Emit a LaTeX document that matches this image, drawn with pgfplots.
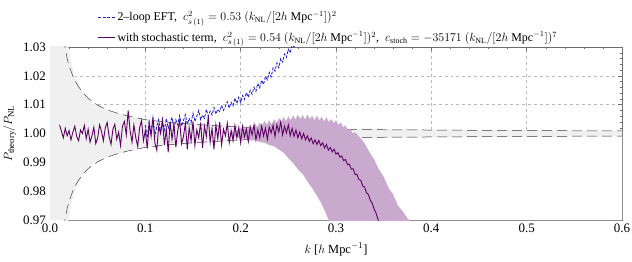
\documentclass[border=0pt]{standalone}
\usepackage{pgfplots}
\pgfplotsset{compat=1.18}
\usepackage{fontspec}
\setmainfont{Liberation Serif}
\usetikzlibrary{calc}
\definecolor{eftblue}{RGB}{25,25,200}
\definecolor{stpurple}{RGB}{95,0,100}
\definecolor{bandpurple}{RGB}{201,170,206}
\definecolor{envgray}{RGB}{240,240,240}
\definecolor{framegray}{RGB}{110,110,110}

\pgfplotstableread{
k up lo
0.000 1.0400 0.9600
0.016 1.0400 0.9600
0.018 1.0320 0.9680
0.022 1.0250 0.9750
0.026 1.0200 0.9800
0.032 1.0155 0.9845
0.040 1.0120 0.9880
0.047 1.0100 0.9900
0.060 1.0082 0.9918
0.080 1.0062 0.9938
0.100 1.0050 0.9950
0.120 1.0042 0.9958
0.150 1.0034 0.9966
0.200 1.0026 0.9974
0.250 1.0021 0.9979
0.300 1.0018 0.9982
0.400 1.0014 0.9986
0.500 1.0012 0.9988
0.600 1.0010 0.9990
}\grayfill

\pgfplotstableread{
k up lo
0.0140 1.0330 0.9670
0.0160 1.0295 0.9705
0.0180 1.0260 0.9740
0.0200 1.0235 0.9765
0.0250 1.0190 0.9810
0.0300 1.0162 0.9838
0.0350 1.0140 0.9860
0.0400 1.0122 0.9878
0.0500 1.0098 0.9902
0.0600 1.0082 0.9918
0.0700 1.0071 0.9929
0.0800 1.0062 0.9938
0.1000 1.0048 0.9952
0.1200 1.0040 0.9960
0.1500 1.0032 0.9968
0.2000 1.0022 0.9978
0.2500 1.0017 0.9983
0.3000 1.0014 0.9986
0.4000 1.0012 0.9988
0.5000 1.0010 0.9990
0.6000 1.0009 0.9991
}\envelope

\pgfplotstableread{
k v
0.100 1.0030
0.102 0.9985
0.104 1.0040
0.106 1.0002
0.108 1.0055
0.110 0.9990
0.112 1.0025
0.114 1.0048
0.116 1.0005
0.118 1.0040
0.120 1.0012
0.122 1.0052
0.124 1.0018
0.126 1.0036
0.128 1.0056
0.130 1.0018
0.132 1.0048
0.134 1.0030
0.136 1.0062
0.138 1.0026
0.140 1.0045
0.142 1.0066
0.144 1.0032
0.146 1.0052
0.148 1.0038
0.150 1.0070
0.152 1.0042
0.154 1.0060
0.156 1.0080
0.158 1.0048
0.160 1.0064
0.162 1.0052
0.164 1.0084
0.166 1.0060
0.168 1.0078
0.170 1.0064
0.172 1.0090
0.174 1.0068
0.176 1.0084
0.178 1.0076
0.180 1.0098
0.182 1.0080
0.184 1.0094
0.186 1.0110
0.188 1.0088
0.190 1.0108
0.192 1.0096
0.194 1.0122
0.196 1.0104
0.198 1.0126
0.200 1.0108
0.202 1.0132
0.204 1.0118
0.206 1.0142
0.208 1.0126
0.210 1.0150
0.212 1.0136
0.214 1.0160
0.216 1.0146
0.218 1.0174
0.220 1.0158
0.222 1.0185
0.224 1.0170
0.226 1.0198
0.228 1.0186
0.230 1.0212
0.232 1.0196
0.234 1.0228
0.236 1.0216
0.238 1.0245
0.240 1.0228
0.242 1.0260
0.244 1.0248
0.246 1.0276
0.248 1.0264
0.250 1.0292
0.252 1.0280
0.254 1.0306
0.256 1.0300
0.258 1.0325
}\eftdata

\pgfplotstableread{
k v
0.010 1.0030
0.012 1.0008
0.014 0.9985
0.016 1.0018
0.018 0.9992
0.020 1.0010
0.022 0.9978
0.024 1.0005
0.026 1.0025
0.028 0.9990
0.030 0.9975
0.032 1.0012
0.034 1.0000
0.036 1.0028
0.038 0.9982
0.040 1.0015
0.042 0.9970
0.044 0.9992
0.046 1.0022
0.048 0.9965
0.050 0.9985
0.052 1.0030
0.054 1.0008
0.056 0.9975
0.058 1.0020
0.060 1.0038
0.062 0.9990
0.064 0.9962
0.066 1.0015
0.068 1.0032
0.070 0.9980
0.072 1.0005
0.074 0.9958
0.076 1.0025
0.078 1.0042
0.080 0.9995
0.082 1.0080
0.084 1.0010
0.086 0.9970
0.088 1.0030
0.090 0.9985
0.092 0.9955
0.094 1.0020
0.096 1.0045
0.098 0.9975
0.100 1.0010
0.102 0.9948
0.104 1.0035
0.106 0.9990
0.108 1.0055
0.110 0.9968
0.112 0.9942
0.114 1.0025
0.116 1.0000
0.118 1.0048
0.120 0.9960
0.122 1.0015
0.124 0.9935
0.126 1.0040
0.128 0.9980
0.130 1.0030
0.132 0.9952
0.134 1.0010
0.136 1.0045
0.138 0.9965
0.140 0.9990
0.142 1.0035
0.144 0.9945
0.146 1.0020
0.148 0.9975
0.150 1.0042
0.152 0.9958
0.154 1.0012
0.156 0.9985
0.158 1.0038
0.160 0.9950
0.162 1.0025
0.164 0.9990
0.166 1.0060
0.168 0.9970
0.170 1.0018
0.172 0.9945
0.174 1.0030
0.176 0.9982
0.178 1.0040
0.180 0.9960
0.182 1.0015
0.184 0.9992
0.186 1.0035
0.188 0.9968
0.190 1.0010
0.192 0.9975
0.194 1.0028
0.196 0.9985
0.198 1.0020
0.200 0.9968
0.202 1.0025
0.204 0.9988
0.206 1.0015
0.208 0.9972
0.210 1.0022
0.212 0.9995
0.214 1.0030
0.216 0.9978
0.218 1.0012
0.220 0.9985
0.222 1.0026
0.224 0.9992
0.226 1.0018
0.228 0.9980
0.230 1.0022
0.232 1.0002
0.234 1.0028
0.236 0.9990
0.238 1.0030
0.240 1.0005
0.242 1.0040
0.244 0.9995
0.246 1.0025
0.248 1.0002
0.250 1.0030
0.252 0.9992
0.254 1.0018
0.256 0.9990
0.258 1.0012
0.260 0.9985
0.262 1.0005
0.264 0.9982
0.266 1.0000
0.268 0.9978
0.270 0.9992
0.272 0.9972
0.274 0.9985
0.276 0.9965
0.278 0.9978
0.280 0.9962
0.282 0.9976
0.284 0.9958
0.286 0.9968
0.288 0.9950
0.290 0.9962
0.292 0.9942
0.294 0.9952
0.296 0.9936
0.298 0.9946
0.300 0.9928
0.302 0.9934
0.304 0.9918
0.306 0.9922
0.308 0.9906
0.310 0.9910
0.312 0.9892
0.314 0.9894
0.316 0.9876
0.318 0.9878
0.320 0.9858
0.322 0.9858
0.324 0.9840
0.326 0.9838
0.328 0.9818
0.330 0.9814
0.332 0.9794
0.334 0.9788
0.336 0.9768
0.338 0.9758
0.340 0.9738
0.342 0.9724
0.344 0.9702
0.346 0.9686
}\stochdata

\pgfplotstableread{
k v
0.190 1.0012
0.1925 1.0004
0.195 1.0014
0.1975 1.0006
0.200 1.0020
0.2025 1.0010
0.205 1.0024
0.2075 1.0014
0.210 1.0030
0.2125 1.0018
0.215 1.0034
0.2175 1.0022
0.220 1.0038
0.2225 1.0026
0.225 1.0044
0.2275 1.0030
0.230 1.0046
0.2325 1.0032
0.235 1.0050
0.2375 1.0036
0.240 1.0054
0.2425 1.0040
0.245 1.0058
0.2475 1.0042
0.250 1.0060
0.2525 1.0046
0.255 1.0064
0.2575 1.0048
0.260 1.0066
0.2625 1.0050
0.265 1.0064
0.2675 1.0048
0.270 1.0066
0.2725 1.0050
0.275 1.0062
0.2775 1.0046
0.280 1.0062
0.2825 1.0046
0.285 1.0058
0.2875 1.0042
0.290 1.0056
0.2925 1.0040
0.295 1.0050
0.2975 1.0036
0.300 1.0046
0.3025 1.0030
0.305 1.0038
0.3075 1.0022
0.310 1.0028
0.3125 1.0012
0.315 1.0016
0.3175 1.0000
0.320 1.0004
0.325 0.9986
0.330 0.9966
0.335 0.9936
0.340 0.9910
0.345 0.9876
0.350 0.9850
0.355 0.9812
0.360 0.9788
0.365 0.9750
0.370 0.9730
0.375 0.9706
0.380 0.9690
0.382 0.9600
0.295 0.9600
0.295 0.9680
0.290 0.9718
0.285 0.9756
0.280 0.9784
0.275 0.9810
0.270 0.9834
0.265 0.9860
0.260 0.9876
0.255 0.9898
0.250 0.9914
0.245 0.9934
0.240 0.9944
0.235 0.9956
0.230 0.9960
0.225 0.9968
0.220 0.9970
0.215 0.9978
0.210 0.9976
0.205 0.9984
0.200 0.9982
0.195 0.9990
0.190 0.9988
}\band

\begin{document}
\fontsize{12}{14}\selectfont
\begin{tikzpicture}
\begin{axis}[
  scale only axis,
  width=572bp, height=173bp,
  xmin=0, xmax=0.6, ymin=0.97, ymax=1.03,
  xtick={0,0.1,0.2,0.3,0.4,0.5,0.6},
  ytick={0.97,0.98,0.99,1.00,1.01,1.02,1.03},
  minor x tick num=4, minor y tick num=4,
  tick align=inside,
  major tick length=4bp, minor tick length=2bp,
  tick style={framegray, line width=0.4pt},
  axis line style={framegray, line width=0.5pt},
  grid=major,
  major grid style={dashed, gray!55, line width=0.4pt},
  /pgf/number format/assume math mode=true,
  tick label style={font=\fontsize{13}{15}\selectfont},
  xticklabel style={/pgf/number format/.cd, fixed, fixed zerofill, precision=1},
  yticklabel style={/pgf/number format/.cd, fixed, fixed zerofill, precision=2},
  xlabel={$k$ [$h$ Mpc$^{-1}$]},
  ylabel={$P_{\mathrm{theory}}/P_{\mathrm{NL}}$},
  label style={font=\fontsize{12.5}{14}\selectfont},
  xlabel style={yshift=-2bp},
  ylabel style={yshift=-1bp},
  legend style={at={(0.082,1.0)}, anchor=south west, draw=none, fill=none,
    font=\fontsize{12}{14}\selectfont, row sep=5bp, inner sep=0.5bp, yshift=1bp},
  legend cell align=left,
  clip=true,
]
\addplot[fill=envgray, draw=none, forget plot] table[x=k, y=up] {\grayfill} \closedcycle;
\addplot[fill=white, draw=none, forget plot] table[x=k, y=lo] {\grayfill} \closedcycle;
\addplot[black!75, line width=0.5pt, dash pattern=on 10bp off 5bp, forget plot] table[x=k, y=up] {\envelope};
\addplot[black!75, line width=0.5pt, dash pattern=on 10bp off 5bp, forget plot] table[x=k, y=lo] {\envelope};
\addplot[fill=bandpurple, draw=none, forget plot] table[x=k, y=v] {\band} -- cycle;
\addplot[eftblue, line width=0.8pt, dash pattern=on 3bp off 1.5bp] table[x=k, y=v] {\eftdata};
\addlegendentry{2–loop EFT,\ \ $c^2_{s\,(1)}=0.53\ (k_{\mathrm{NL}}/[2h\ \mathrm{Mpc}^{-1}])^2$}
\addplot[stpurple, line width=0.9pt] table[x=k, y=v] {\stochdata};
\addlegendentry{with stochastic term,\ \ $c^2_{s\,(1)}=0.54\ (k_{\mathrm{NL}}/[2h\ \mathrm{Mpc}^{-1}])^2$,\ \ $c_{\mathrm{stoch}}=-35171\ (k_{\mathrm{NL}}/[2h\ \mathrm{Mpc}^{-1}])^7$}
\end{axis}
\pgfresetboundingbox
\path ($(current axis.south west)+(-50bp,-41bp)$) rectangle ($(current axis.north east)+(10bp,47bp)$);
\end{tikzpicture}
\end{document}
